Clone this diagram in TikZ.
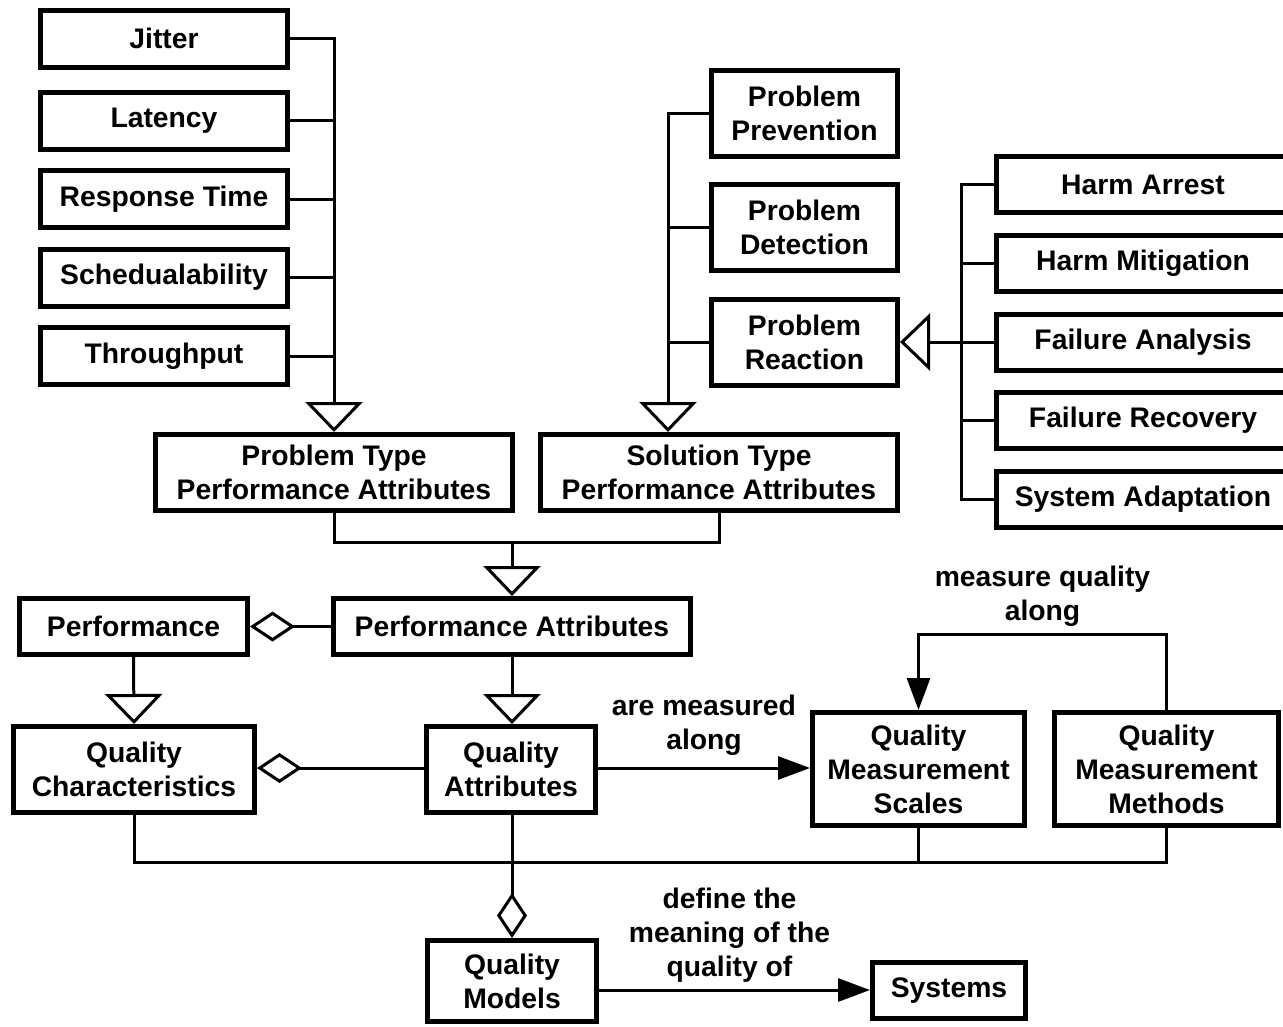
\documentclass[tikz,border=0pt]{standalone}
\usepackage{fontspec}
\setmainfont{Liberation Sans}
\usetikzlibrary{arrows.meta}

\tikzset{
  box/.style={draw, line width=5pt, align=center, inner sep=0pt,
    font=\bfseries\fontsize{28.3}{34}\selectfont},
  lbl/.style={align=center, inner sep=0pt,
    font=\bfseries\fontsize{28.3}{34}\selectfont},
  link/.style={line width=3pt},
  inherit/.style={line width=3pt, -{Triangle[open,length=30pt,width=57pt]}},
  aggr/.style={line width=3pt, -{Diamond[open,length=45pt,width=30pt]}},
  assoc/.style={line width=3pt, -{Triangle[length=32pt,width=23pt]}}
}

\begin{document}
\begin{tikzpicture}[x=1pt,y=-1pt]
    \useasboundingbox (0,0) rectangle (1283,1026);
    \node [box, minimum width=247pt, minimum height=57pt] (jitter) at (164,38.5) {Jitter};
    \node [box, minimum width=247pt, minimum height=57pt] (latency) at (164,120.5) {Latency};
    \node [box, minimum width=247pt, minimum height=57pt] (resp) at (164,199) {Response Time};
    \node [box, minimum width=247pt, minimum height=57pt] (sched) at (164,277.5) {Schedualability};
    \node [box, minimum width=247pt, minimum height=57pt] (thru) at (164,356) {Throughput};
    \node [box, minimum width=186pt, minimum height=86pt] (prevent) at (804.5,113.5) {Problem\\Prevention};
    \node [box, minimum width=186pt, minimum height=86pt] (detect) at (804.5,227.5) {Problem\\Detection};
    \node [box, minimum width=186pt, minimum height=86pt] (react) at (804.5,342) {Problem\\Reaction};
    \node [box, minimum width=293pt, minimum height=56pt] (arrest) at (1143,184.5) {Harm Arrest};
    \node [box, minimum width=293pt, minimum height=56pt] (mitig) at (1143,263) {Harm Mitigation};
    \node [box, minimum width=293pt, minimum height=56pt] (fanal) at (1143,342) {Failure Analysis};
    \node [box, minimum width=293pt, minimum height=56pt] (frecov) at (1143,420) {Failure Recovery};
    \node [box, minimum width=293pt, minimum height=56pt] (adapt) at (1143,499) {System Adaptation};
    \node [box, minimum width=357pt, minimum height=76pt] (ptype) at (334,472.5) {Problem Type\\Performance Attributes};
    \node [box, minimum width=357pt, minimum height=76pt] (stype) at (719,472.5) {Solution Type\\Performance Attributes};
    \node [box, minimum width=228pt, minimum height=56pt] (perf) at (133.5,626.5) {Performance};
    \node [box, minimum width=357pt, minimum height=56pt] (pattr) at (512,626.5) {Performance Attributes};
    \node [box, minimum width=241pt, minimum height=86pt] (qchar) at (134,769.5) {Quality\\Characteristics};
    \node [box, minimum width=169pt, minimum height=86pt] (qattr) at (511,769.5) {Quality\\Attributes};
    \node [box, minimum width=212pt, minimum height=113pt] (qscale) at (918.5,769) {Quality\\Measurement\\Scales};
    \node [box, minimum width=224pt, minimum height=113pt] (qmeth) at (1166.5,769) {Quality\\Measurement\\Methods};
    \node [box, minimum width=169pt, minimum height=81pt] (qmodel) at (512,981) {Quality\\Models};
    \node [box, minimum width=153pt, minimum height=56pt] (systems) at (949,990.5) {Systems};

    \coordinate (sbus) at (668,432);
    \coordinate (pjoin) at (512,542);
    \coordinate (qbus) at (512,862);

    \draw [inherit] (jitter.east) -| (ptype.north);
    \draw [link] (latency.east) -- (latency.east -| ptype.north);
    \draw [link] (resp.east) -- (resp.east -| ptype.north);
    \draw [link] (sched.east) -- (sched.east -| ptype.north);
    \draw [link] (thru.east) -- (thru.east -| ptype.north);

    \draw [inherit] (prevent.west) -| (sbus);
    \draw [link] (detect.west) -- (detect.west -| sbus);
    \draw [link] (react.west) -- (react.west -| sbus);

    \draw [link] (arrest.west) -- ++(-33,0) |- (adapt.west);
    \draw [link] (mitig.west) -- ++(-33,0);
    \draw [link] (frecov.west) -- ++(-33,0);
    \draw [inherit] (fanal.west) -- (react.east);

    \draw [link] (ptype.south) |- (pjoin) -| (stype.south);
    \draw [inherit] (pjoin) -- (pattr.north);

    \draw [aggr] (pattr.west) -- (perf.east);
    \draw [inherit] (perf.south) -- (qchar.north);
    \draw [inherit] (pattr.south) -- (qattr.north -| pattr.south);
    \draw [aggr] (qattr.west |- 0,768) -- (qchar.east |- 0,768);

    \draw [assoc] (qattr.east |- 0,768) -- node [lbl, above=11pt] (measlbl) {are measured\\along} (qscale.west |- 0,768);
    \draw [assoc] (qmeth.north) -- ++(0,-76) -| node [lbl, above=6pt, pos=0.25] (alonglbl) {measure quality\\along} (qscale.north);

    \draw [link] (qchar.south) |- (qbus) -| (qmeth.south);
    \draw [link] (qscale.south) -- (qscale.south |- qbus);
    \draw [aggr] (qattr.south -| qmodel.north) -- (qmodel.north);

    \draw [assoc] (qmodel.east |- 0,990) -- node [lbl, above=6pt, xshift=-5pt] (deflbl) {define the\\meaning of the\\quality of} (systems.west |- 0,990);
\end{tikzpicture}
\end{document}
